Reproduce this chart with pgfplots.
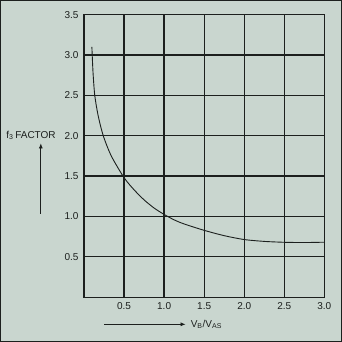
\documentclass[border=0pt]{standalone}
\usepackage{pgfplots}
\pgfplotsset{compat=1.18}
\usetikzlibrary{arrows.meta}
\usepackage{fontspec}
\setmainfont{Liberation Sans}
\definecolor{bg}{RGB}{201,214,207}
\definecolor{ink}{RGB}{28,32,30}
\begin{document}
\begin{tikzpicture}
\fill[bg] (-83bp,-44bp) rectangle (256bp,295bp);
\begin{axis}[
  at={(0,0)}, anchor=south west,
  scale only axis, width=239bp, height=281bp,
  xmin=0, xmax=3, ymin=0, ymax=3.5,
  xtick={0.5,1,1.5,2,2.5,3}, ytick={0.5,1,1.5,2,2.5,3,3.5},
  xticklabels={0.5,1.0,1.5,2.0,2.5,3.0},
  yticklabels={0.5,1.0,1.5,2.0,2.5,3.0,3.5},
  /pgf/number format/assume math mode=true,
  grid=major,
  major grid style={ink, line width=1.3pt},
  axis line style={ink, line width=1.3pt},
  tick style={draw=none},
  ticklabel style={font=\fontsize{10}{12}\selectfont, text=ink},
  xticklabel style={yshift=-2bp},
  yticklabel style={xshift=-2bp},
  clip=false,
]
\addplot[ink, line width=0.9pt, smooth, tension=0.45] coordinates {
(0.098,3.1) (0.102,3.0) (0.113,2.77) (0.134,2.5) (0.176,2.25) (0.24,2.0) (0.34,1.75)
(0.5,1.48) (0.625,1.33) (0.75,1.205) (0.875,1.104) (1.0,1.025) (1.125,0.958)
(1.25,0.907) (1.5,0.828) (1.75,0.762) (2.0,0.714) (2.25,0.691) (2.5,0.680)
(2.75,0.677) (3.0,0.681)
};
\end{axis}
\draw[ink, line width=1.2pt] (-83bp,-44bp) rectangle (256bp,295bp);
% y label
\node[anchor=east, text=ink, font=\fontsize{10}{12}\selectfont, inner sep=0pt] at (-28bp,161bp) {f\textsubscript{3}\,FACTOR};
\draw[ink, line width=0.7pt, -{Latex[length=5bp,width=4bp]}] (-43bp,83bp) -- (-43bp,153bp);
% x label
\draw[ink, line width=0.7pt, -{Latex[length=5bp,width=4bp]}] (20bp,-27bp) -- (101bp,-27bp);
\node[anchor=west, text=ink, font=\fontsize{10}{12}\selectfont, inner sep=0pt] at (106bp,-27bp) {V\textsubscript{B}/V\textsubscript{AS}};
\end{tikzpicture}
\end{document}
